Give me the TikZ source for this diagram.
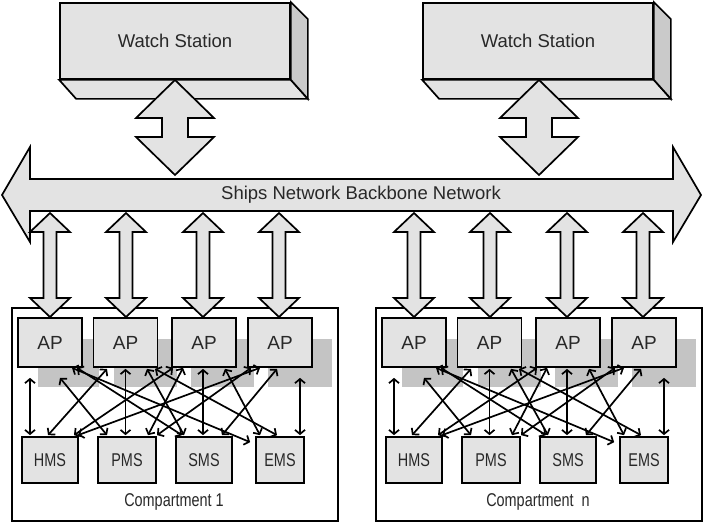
\documentclass[tikz,border=0pt]{standalone}
\usepackage{fontspec}
\setmainfont{Liberation Sans}
\newfontfamily\narrowfont[FakeStretch=0.78]{Liberation Sans}
\usetikzlibrary{arrows.meta,calc}
\definecolor{boxfill}{RGB}{227,227,227}
\definecolor{shadowgray}{RGB}{196,196,196}
\definecolor{sidegray}{RGB}{202,202,202}
\definecolor{txt}{RGB}{40,40,40}
% vertical double block arrow: x, ytop, ybottom, head half width, shaft half width, head length
\newcommand{\VDA}[6]{%
  \filldraw[bigarrow] (#1,#2) -- (#1+#4,#2+#6) -- (#1+#5,#2+#6) -- (#1+#5,#3-#6)
    -- (#1+#4,#3-#6) -- (#1,#3) -- (#1-#4,#3-#6) -- (#1-#5,#3-#6)
    -- (#1-#5,#2+#6) -- (#1-#4,#2+#6) -- cycle;}
\begin{document}
\begin{tikzpicture}[x=1pt,y=-1pt,
  bigarrow/.style={draw=black, fill=boxfill, line width=1.7pt, line join=miter},
  wsbox/.style={draw, fill=boxfill, line width=1.7pt, minimum width=230pt, minimum height=76pt,
    inner sep=0pt, font=\fontsize{18.5}{22}\selectfont, text=txt},
  apbox/.style={draw, fill=boxfill, line width=1.7pt, minimum width=64pt, minimum height=49pt,
    inner sep=0pt, font=\fontsize{19}{22}\selectfont, text=txt},
  sysbox/.style={draw, fill=boxfill, line width=1.7pt, minimum height=46pt,
    inner sep=0pt, font=\narrowfont\fontsize{18.5}{22}\selectfont, text=txt},
  compbox/.style={draw, line width=1.7pt, minimum width=326pt, minimum height=213pt, inner sep=0pt},
  lbl/.style={inner sep=0pt, text=txt},
  link/.style={line width=1.7pt,
    {Straight Barb[length=4.2pt,width=10pt]}-{Straight Barb[length=4.2pt,width=10pt]}}
]
\useasboundingbox (0,0) rectangle (703,525);

% ---------- watch stations ----------
\foreach \w/\cx in {1/175, 2/538}{
  \node[wsbox] (ws\w) at (\cx,41) {Watch Station};
  \filldraw[bigarrow] (ws\w.south west) -- (ws\w.south east) -- ++(17,19)
      -- ($(ws\w.south west)+(17,19)$) -- cycle;
  \filldraw[bigarrow, fill=sidegray] (ws\w.north east) -- ++(17,17)
      -- ($(ws\w.south east)+(17,19)$) -- (ws\w.south east) -- cycle;
}
\VDA{175}{80}{175}{39}{13}{38}
\VDA{539}{80}{175}{39}{13}{38}

% ---------- backbone ----------
\filldraw[bigarrow] (2,195) -- (30,147) -- (30,179) -- (673,179) -- (673,147) -- (701,195)
  -- (673,242) -- (673,211) -- (30,211) -- (30,242) -- cycle;
\node[lbl, font=\fontsize{18.5}{22}\selectfont] (bb) at (361,195) {Ships Network Backbone Network};

% ---------- compartments ----------
\foreach \c/\s/\lab in {a/0/{Compartment 1}, b/364/{Compartment\ \ n}}{
\begin{scope}[xshift=\s pt]
  \node[compbox] (comp\c) at (175,414.5) {};
  \node[lbl, font=\narrowfont\fontsize{18.5}{22}\selectfont] (clabel\c) at (174,502) {\lab};
  \foreach \ax in {50,126,203,279}{ \VDA{\ax}{213}{317}{20}{6.5}{19} }
  % shadows
  \fill[shadowgray] (38,339) rectangle (99,387);
  \fill[shadowgray] (114,339) rectangle (177,387);
  \fill[shadowgray] (191,339) rectangle (254,387);
  \fill[shadowgray] (268,339) rectangle (332,387);
  % access points
  \node[apbox] (ap1\c) at (50,342.5) {AP};
  \node[apbox] (ap2\c) at (125.5,342.5) {AP};
  \node[apbox] (ap3\c) at (204,342.5) {AP};
  \node[apbox] (ap4\c) at (280,342.5) {AP};
  % systems
  \node[sysbox, minimum width=56pt] (hms\c) at (50,460) {HMS};
  \node[sysbox, minimum width=58pt] (pms\c) at (127,460) {PMS};
  \node[sysbox, minimum width=56pt] (sms\c) at (204,460) {SMS};
  \node[sysbox, minimum width=48pt] (ems\c) at (280,460) {EMS};
  % links
  \draw[link] ($(ap1\c.south)+(-20,10)$) -- ($(hms\c.north)+(-20,-1)$);
  \draw[link] ($(ap1\c.south)+(10,10)$) -- ($(pms\c.north)+(-20,-1)$);
  \draw[link] ($(ap1\c.south)+(27,0)$) -- ($(sms\c.north)+(-22,-1)$);
  \draw[link] ($(ap1\c.south)+(22,0)$) -- ($(ems\c.north west)+(-5,6)$);
  \draw[link] ($(ap2\c.south)+(-18.5,1)$) -- ($(hms\c.north)+(-2,-1)$);
  \draw[link] ($(ap2\c.south)+(0,1)$) -- ($(pms\c.north)+(-1.5,-1)$);
  \draw[link] ($(ap2\c.south)+(21.5,1)$) -- ($(sms\c.north)+(-20,-1)$);
  \draw[link] ($(ap2\c.south)+(29.5,1)$) -- ($(ems\c.north)+(-3,-1)$);
  \draw[link] ($(ap3\c.south)+(-31,0)$) -- ($(hms\c.north)+(24,-1)$);
  \draw[link] ($(ap3\c.south)+(-21,0)$) -- ($(pms\c.north)+(21,-1)$);
  \draw[link] ($(ap3\c.south)+(-1,1)$) -- ($(sms\c.north)+(-1,-1)$);
  \draw[link] ($(ap3\c.south)+(21,1)$) -- ($(ems\c.north)+(-20,-1)$);
  \draw[link] ($(ap4\c.south)+(-20,0)$) -- ($(hms\c.north)+(28,-1)$);
  \draw[link] ($(ap4\c.south)+(-29,0)$) -- ($(pms\c.north)+(30,-1)$);
  \draw[link] ($(ap4\c.south)+(-3,1)$) -- ($(sms\c.north)+(18,-1)$);
  \draw[link] ($(ap4\c.south)+(20,10)$) -- ($(ems\c.north)+(20,-1)$);
\end{scope}
}
\end{tikzpicture}
\end{document}
